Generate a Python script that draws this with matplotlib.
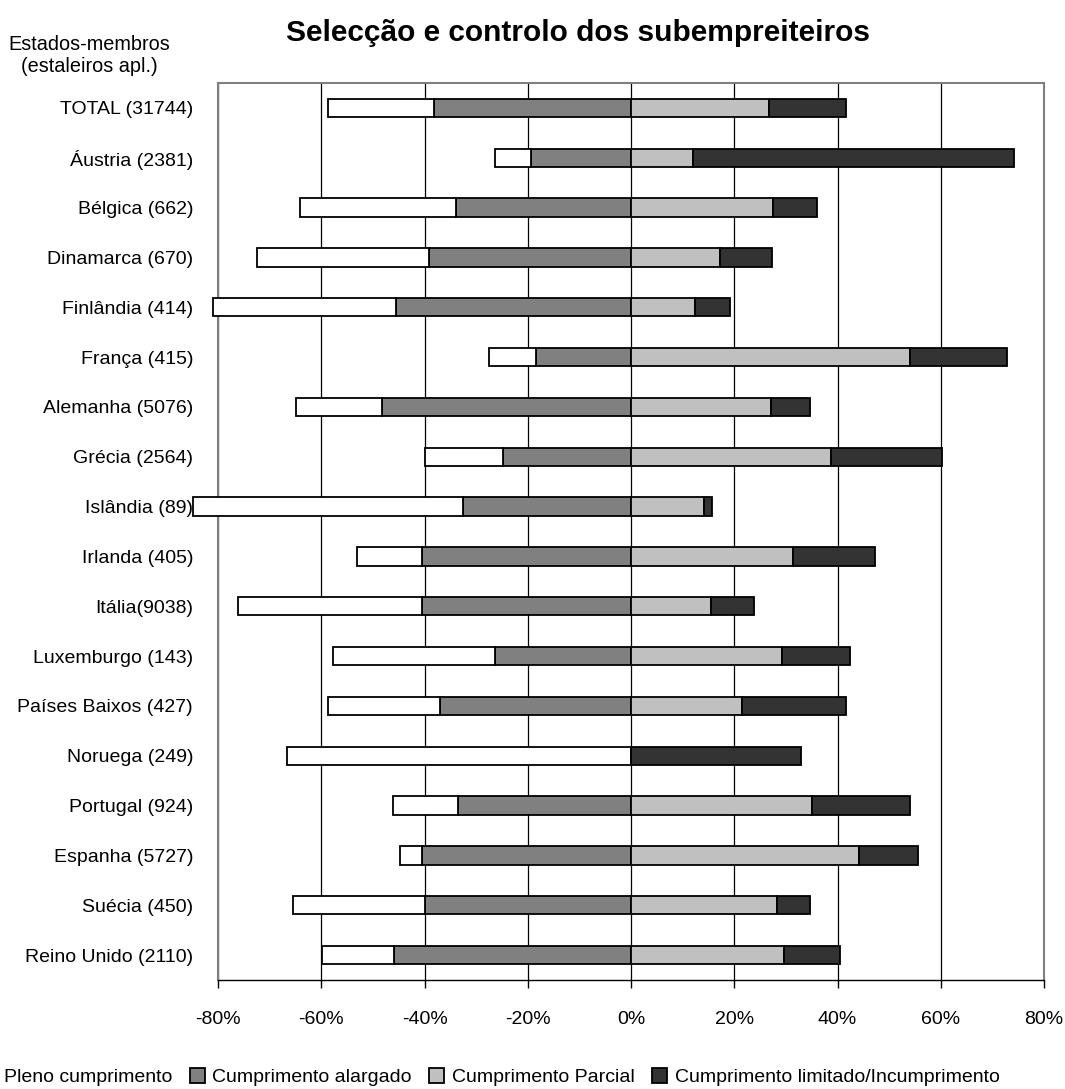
import matplotlib
matplotlib.use("Agg")
import matplotlib.pyplot as plt
from matplotlib.patches import Patch
from matplotlib.ticker import FuncFormatter
import numpy as np

plt.rcParams['font.family'] = ['Liberation Sans', 'DejaVu Sans']

# Member states (number of applicable sites)
countries = [
    "TOTAL (31744)", "Áustria (2381)", "Bélgica (662)", "Dinamarca (670)",
    "Finlândia (414)", "França (415)", "Alemanha (5076)", "Grécia (2564)",
    "Islândia (89)", "Irlanda (405)", "Itália(9038)", "Luxemburgo (143)",
    "Países Baixos (427)", "Noruega (249)", "Portugal (924)", "Espanha (5727)",
    "Suécia (450)", "Reino Unido (2110)",
]

# Shares in % for each compliance level
pleno = [20.4, 7.0, 30.3, 33.3, 35.4, 9.1, 16.7, 15.2, 52.2, 12.6, 35.8, 31.4,
         21.6, 66.7, 12.5, 4.4, 25.4, 13.9]
alargado = [38.2, 19.3, 33.9, 39.1, 45.6, 18.5, 48.2, 24.8, 32.6, 40.4, 40.4,
            26.3, 37.0, 0.0, 33.6, 40.4, 40.0, 45.9]
parcial = [26.8, 12.0, 27.6, 17.2, 12.4, 54.0, 27.1, 38.8, 14.2, 31.4, 15.5,
           29.3, 21.5, 0.0, 35.0, 44.1, 28.3, 29.6]
limitado = [14.9, 62.1, 8.5, 10.1, 6.8, 18.8, 7.5, 21.4, 1.5, 15.8, 8.4, 13.2,
            20.2, 32.9, 19.1, 11.4, 6.4, 10.8]

series_names = ["Pleno cumprimento", "Cumprimento alargado",
                "Cumprimento Parcial", "Cumprimento limitado/Incumprimento"]
colors = ["#FFFFFF", "#808080", "#C0C0C0", "#333333"]

xticks = [-80, -60, -40, -20, 0, 20, 40, 60, 80]

fig = plt.figure(figsize=(10.65, 10.89), dpi=100)
ax = fig.add_axes([0.2047, 0.1001, 0.7756, 0.8237])

y = np.arange(len(countries))
pl = np.array(pleno)
al = np.array(alargado)
pa = np.array(parcial)
li = np.array(limitado)

h = 0.37
bar_kw = dict(height=h, edgecolor="black", linewidth=1.3, clip_on=False, zorder=3)
ax.barh(y, -al, left=0, color=colors[1], **bar_kw)
ax.barh(y, -pl, left=-al, color=colors[0], **bar_kw)
ax.barh(y, pa, left=0, color=colors[2], **bar_kw)
ax.barh(y, li, left=pa, color=colors[3], **bar_kw)

ax.set_xlim(-80, 80)
ax.set_ylim(len(countries) - 0.5, -0.5)
ax.set_xticks(xticks)
ax.xaxis.set_major_formatter(FuncFormatter(lambda v, p: f"{v:.0f}%"))
ax.set_yticks(y)
ax.set_yticklabels(countries)
ax.tick_params(axis="y", length=0, pad=18, labelsize=14)
ax.tick_params(axis="x", length=6, width=1, pad=16, labelsize=14, direction="out")
ax.grid(axis="x", color="black", linewidth=0.9, zorder=0)
ax.set_axisbelow(True)
for side in ("left", "top", "right"):
    ax.spines[side].set_color("#808080")
    ax.spines[side].set_linewidth(1.5)
ax.spines["bottom"].set_color("black")
ax.spines["bottom"].set_linewidth(1.0)

fig.text(0.543, 0.970, "Selecção e controlo dos subempreiteiros",
         ha="center", va="center", fontsize=21.5, fontweight="bold")
fig.text(0.084, 0.949, "Estados-membros\n(estaleiros apl.)",
         ha="center", va="center", fontsize=14.3, linespacing=1.25)

handles = [Patch(facecolor=c, edgecolor="black", linewidth=1.3) for c in colors]
fig.legend(handles, series_names, loc="center left",
           bbox_to_anchor=(-0.027, 0.011), ncol=4, frameon=False,
           fontsize=14, handlelength=0.77, handleheight=0.77,
           handletextpad=0.4, columnspacing=0.9, borderpad=0)

fig.savefig("out.png", dpi=100)
